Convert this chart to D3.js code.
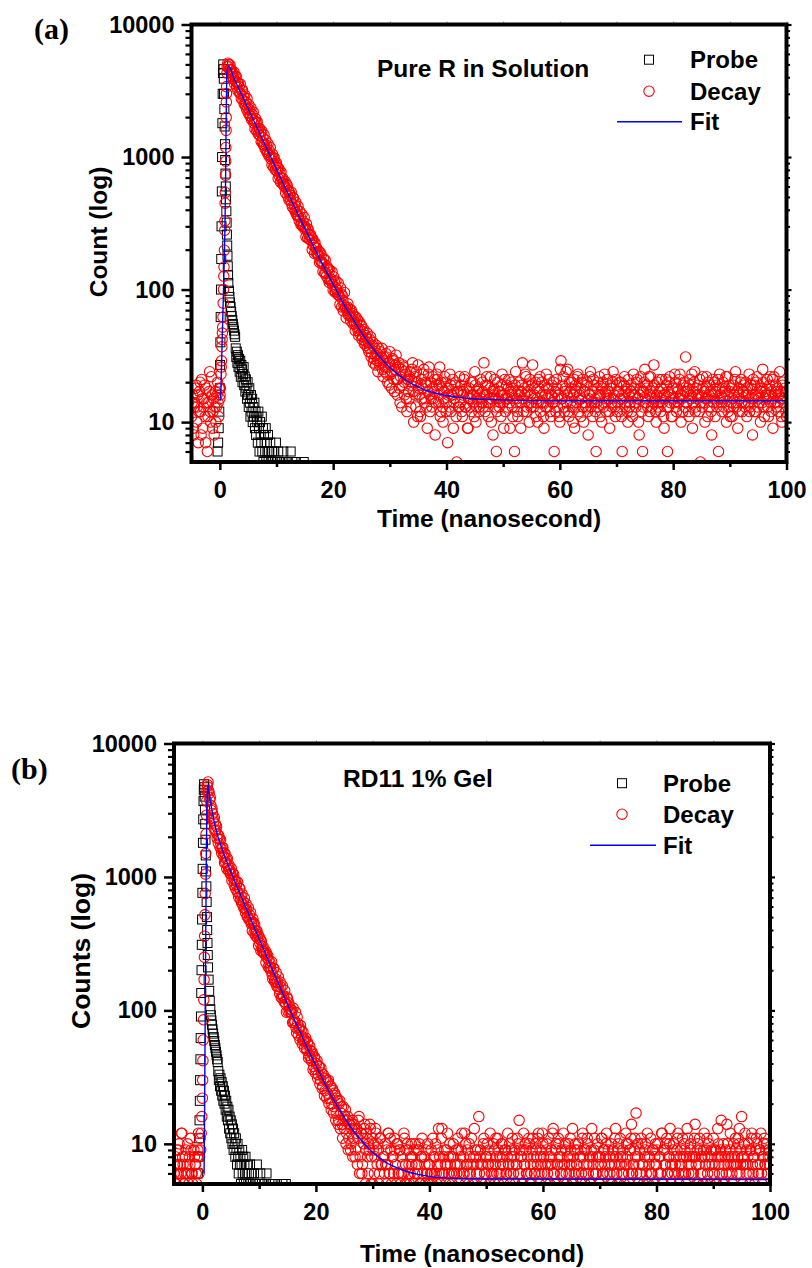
<!DOCTYPE html>
<html>
<head>
<meta charset="utf-8">
<script src="https://cdn.jsdelivr.net/npm/d3@7"></script>
<style>
body { margin: 0; background: #fff; }
svg { display: block; }
text { font-family: "Liberation Sans", Arial, Helvetica, sans-serif; font-weight: bold; fill: #000; }
</style>
</head>
<body>
<svg id="chart" width="812" height="1268"></svg>
<script>
// channels of the decay traces: first time and step (ns)
const t0 = -5, dt = 0.1;

const xDomain = [-5, 100];
const yDomain = [5, 10000];
const xTicks = [0, 20, 40, 60, 80, 100];
const xMinor = [10, 30, 50, 70, 90];
const yTicks = [10, 100, 1000, 10000];

// ---------- panel (a) : Pure R in Solution ----------
// one row = 1 ns
const aDecay = [
	11, 14, 16, 9, 8, 13, 14, 18, 19, 10,
	13, 16, 7, 12, 17, 20, 12, 8, 21, 15,
	9, 13, 15, 19, 11, 7, 18, 14, 6, 11,
	14, 17, 24, 12, 10, 22, 16, 9, 12, 15,
	8, 13, 17, 10, 13, 16, 20, 14, 11, 18,
	15, 18, 23, 29, 42, 52, 79, 126, 198, 330, 730, 1590, 3400, 4800,
	5100, 4830, 5000, 4580, 4940, 4570, 4320, 4520, 4300, 4060,
	3940, 4370, 3580, 4060, 3740, 4070, 3360, 3630, 3150, 3620,
	3390, 3040, 3550, 2990, 2770, 3170, 3200, 2680, 2850, 2500,
	2940, 2470, 2610, 2300, 2760, 2340, 2160, 2480, 2290, 2050,
	2040, 2340, 1920, 2100, 1940, 2180, 1800, 1870, 1630, 1950,
	1830, 1570, 1840, 1610, 1490, 1640, 1650, 1450, 1530, 1310,
	1570, 1310, 1400, 1230, 1470, 1230, 1150, 1340, 1230, 1090,
	1090, 1260, 1030, 1120, 1040, 1180, 970, 1000, 870, 1050,
	990, 840, 985, 870, 800, 880, 900, 785, 830, 690,
	820, 720, 760, 645, 770, 690, 635, 690, 640, 610,
	600, 655, 535, 625, 575, 610, 505, 555, 475, 540,
	515, 470, 545, 445, 420, 495, 490, 405, 435, 390,
	455, 370, 400, 360, 425, 355, 330, 390, 355, 310,
	315, 370, 300, 325, 300, 350, 285, 290, 250, 312,
	290, 245, 285, 260, 240, 255, 260, 235, 245, 200,
	240, 215, 225, 187, 225, 208, 191, 205, 188, 184,
	180, 194, 160, 190, 165, 182, 158, 160, 137, 171,
	155, 133, 167, 134, 126, 149, 143, 120, 143, 113,
	140, 117, 120, 115, 136, 109, 99, 125, 115, 97,
	95, 116, 100, 100, 92, 112, 91, 89, 77, 103,
	93, 74, 90, 83, 69, 76, 95, 74, 73, 61,
	70, 74, 78, 64, 66, 71, 63, 58, 70, 62,
	66, 55, 58, 63, 55, 49, 62, 56, 52, 59,
	49, 45, 57, 50, 46, 54, 53, 42, 44, 48,
	50, 39, 41, 45, 38, 43, 47, 36, 40, 34,
	36, 42, 44, 31, 33, 38, 40, 28, 30, 36,
	32, 27, 38, 33, 29, 24, 36, 30, 27, 34,
	28, 31, 36, 25, 22, 29, 31, 24, 26, 33,
	31, 23, 20, 28, 26, 19, 34, 27, 23, 18,
	24, 30, 29, 21, 17, 25, 27, 32, 21, 16,
	21, 26, 28, 18, 14, 22, 25, 13, 19, 27,
	26, 20, 16, 24, 23, 15, 12, 21, 21, 17,
	15, 22, 24, 13, 19, 25, 28, 17, 10, 20,
	22, 16, 13, 24, 20, 11, 27, 18, 16, 12,
	11, 19, 21, 15, 18, 23, 25, 14, 15, 20,
	19, 13, 9, 17, 23, 26, 16, 12, 20, 15,
	13, 18, 22, 15, 17, 21, 8, 14, 19, 23,
	21, 16, 14, 19, 26, 11, 12, 20, 18, 13,
	10, 15, 17, 22, 20, 12, 14, 18, 7, 16,
	18, 13, 23, 19, 12, 16, 16, 21, 9, 14,
	15, 19, 20, 11, 5, 17, 17, 13, 13, 22,
	14, 17, 19, 12, 11, 16, 17, 21, 22, 13,
	13, 18, 16, 9, 9, 15, 18, 13, 15, 20,
	12, 16, 20, 14, 16, 11, 24, 19, 10, 13,
	15, 17, 18, 12, 13, 16, 21, 15, 14, 20,
	17, 13, 28, 16, 12, 19, 16, 22, 19, 14,
	11, 15, 14, 18, 22, 10, 15, 17, 8, 16,
	18, 21, 13, 15, 6, 12, 20, 17, 15, 13,
	17, 14, 11, 19, 23, 16, 14, 9, 16, 21,
	12, 15, 19, 13, 15, 18, 21, 14, 9, 17,
	16, 20, 13, 11, 18, 15, 6, 19, 24, 14,
	15, 12, 11, 17, 20, 16, 14, 9, 17, 19,
	28, 15, 12, 18, 16, 23, 22, 12, 13, 17,
	19, 14, 10, 21, 16, 13, 14, 19, 27, 15,
	13, 16, 18, 20, 11, 14, 15, 10, 21, 18,
	17, 22, 12, 14, 20, 16, 14, 11, 9, 19,
	16, 13, 23, 18, 13, 15, 18, 21, 15, 12,
	11, 16, 19, 14, 14, 20, 6, 15, 17, 12,
	21, 18, 13, 16, 16, 11, 10, 25, 29, 15,
	15, 19, 22, 13, 12, 17, 18, 24, 14, 16,
	25, 12, 11, 20, 17, 14, 20, 18, 13, 10,
	16, 21, 9, 13, 19, 17, 14, 22, 23, 15,
	12, 16, 18, 11, 15, 20, 21, 13, 10, 17,
	17, 14, 13, 19, 20, 12, 8, 15, 16, 22,
	24, 13, 14, 17, 11, 21, 19, 14, 15, 12,
	6, 14, 18, 20, 13, 16, 22, 11, 16, 19,
	10, 18, 20, 13, 14, 23, 17, 15, 12, 16,
	21, 17, 15, 12, 9, 19, 18, 14, 13, 20,
	24, 15, 16, 13, 11, 21, 19, 12, 14, 17,
	17, 20, 12, 15, 20, 11, 6, 16, 15, 19,
	22, 14, 13, 17, 18, 12, 10, 21, 16, 13,
	14, 17, 19, 12, 11, 16, 23, 18, 16, 14,
	13, 20, 21, 15, 15, 10, 8, 16, 18, 22,
	12, 17, 6, 13, 17, 20, 25, 15, 14, 18,
	19, 13, 11, 22, 16, 12, 22, 17, 13, 15,
	18, 14, 27, 19, 15, 12, 10, 16, 20, 13,
	14, 21, 17, 15, 12, 18, 21, 14, 16, 11,
	9, 16, 15, 21, 19, 13, 6, 17, 13, 20,
	22, 14, 16, 11, 11, 18, 18, 15, 14, 23,
	20, 13, 12, 18, 17, 14, 15, 21, 23, 16,
	10, 15, 16, 12, 19, 20, 13, 17, 31, 14,
	14, 17, 18, 12, 11, 19, 21, 16, 15, 23,
	9, 14, 17, 20, 24, 12, 13, 18, 16, 15,
	19, 16, 12, 21, 5, 14, 16, 13, 22, 18,
	14, 17, 10, 15, 18, 22, 15, 11, 20, 16,
	13, 19, 17, 12, 8, 16, 21, 14, 15, 20,
	11, 17, 19, 13, 14, 21, 6, 18, 23, 15,
	16, 14, 12, 18, 20, 13, 15, 17, 18, 22,
	10, 16, 22, 12, 13, 19, 17, 11, 14, 18,
	11, 15, 19, 13, 16, 21, 24, 14, 13, 17,
	9, 16, 18, 12, 15, 20, 21, 14, 12, 17,
	17, 19, 14, 13, 20, 16, 11, 18, 16, 14,
	23, 12, 13, 19, 18, 15, 8, 21, 15, 12,
	19, 16, 12, 20, 22, 13, 16, 15, 14, 18,
	10, 17, 18, 14, 25, 20, 13, 11, 17, 16,
	15, 18, 21, 13, 11, 16, 19, 22, 14, 12,
	17, 21, 9, 15, 22, 14, 16, 19, 13, 17,
	18, 14, 12, 16, 24, 17, 15, 11, 10, 19,
	20, 15, 14, 18, 17, 12, 11
];

// extra decay channels on the steep rising edge [ns, count]
const aRise = [
	[0.05, 16], [0.25, 26], [0.36, 37], [0.45, 47], [0.55, 62], [0.65, 100], [0.74, 148],
	[0.86, 280], [0.93, 448], [0.97, 540], [1.03, 930], [1.06, 1180], [1.12, 1990],
	[1.15, 2600], [1.18, 3020], [1.25, 4300]
];

// instrument response (probe) [ns, count]
const aProbe = [
	[-0.4, 6], [-0.3, 7], [-0.2, 9], [-0.1, 12], [0.0, 18], [0.05, 27], [0.1, 40], [0.15, 62],
	[0.2, 100], [0.25, 170], [0.3, 300], [0.35, 550], [0.4, 1000], [0.45, 1800], [0.5, 3000],
	[0.55, 4300], [0.6, 5000], [0.65, 4600], [0.7, 3900], [0.75, 3000], [0.8, 2300], [0.85, 1700],
	[0.9, 1250], [0.95, 950], [1.0, 750], [1.05, 600], [1.1, 480], [1.15, 390], [1.2, 320],
	[1.25, 260], [1.3, 215], [1.35, 180], [1.4, 150], [1.45, 128], [1.5, 112], [1.6, 98],
	[1.7, 88], [1.8, 80], [1.9, 74], [2.0, 68], [2.1, 63], [2.2, 59], [2.3, 55], [2.4, 52],
	[2.5, 49], [2.6, 46], [2.7, 44],
	[2.8, 36], [2.9, 31], [3.0, 34], [3.1, 28], [3.2, 32], [3.3, 26], [3.4, 30], [3.5, 24],
	[3.6, 29], [3.7, 22], [3.8, 27], [3.9, 25], [4.0, 20], [4.1, 23], [4.2, 26], [4.3, 19],
	[4.4, 22], [4.5, 17], [4.6, 21], [4.7, 18], [4.8, 15], [4.9, 20], [5.0, 16], [5.1, 13],
	[5.2, 18], [5.3, 14], [5.4, 11], [5.5, 16], [5.6, 12], [5.7, 15], [5.8, 10], [5.9, 13],
	[6.0, 11], [6.1, 14], [6.2, 9], [6.3, 12], [6.4, 8], [6.5, 11], [6.6, 10], [6.7, 7],
	[6.8, 12], [6.9, 9], [7.0, 6], [7.1, 10], [7.2, 8], [7.3, 7], [7.4, 11], [7.5, 6],
	[7.6, 9], [7.7, 5], [7.8, 8], [7.9, 7], [8.0, 6], [8.1, 9], [8.2, 5], [8.3, 7],
	[8.4, 6], [8.5, 8], [8.6, 5], [8.7, 6], [8.9, 7], [9.0, 5], [9.2, 6], [9.3, 5],
	[9.5, 6], [9.7, 5], [9.9, 7], [10.1, 5], [10.3, 6], [10.6, 5], [10.9, 5], [11.2, 6],
	[11.6, 5], [12.0, 5], [12.5, 6], [12.8, 5], [13.4, 5], [14.8, 5]
];

// fitted curve [ns, count]
const aFit = [
	[0.1, 14.6], [0.2, 18], [0.4, 40], [0.7, 120], [0.95, 400], [1.05, 900],
	[1.12, 2000], [1.2, 3600], [1.3, 4500], [1.55, 4850], [2.5, 3935], [3.5, 3184],
	[4.5, 2577], [5.5, 2086], [6.5, 1689], [7.5, 1369], [8.5, 1109], [9.5, 899], [10.5, 729],
	[11.5, 592], [12.5, 482], [13.5, 393], [14.5, 320], [15.5, 262], [16.5, 214], [17.5, 175],
	[18.5, 145], [19.5, 120], [20.5, 100], [21.5, 83], [22.5, 70], [23.5, 60], [24.5, 51],
	[25.5, 44], [26.5, 38.4], [27.5, 33.8], [28.5, 30.1], [29.5, 27.1], [30.5, 24.7],
	[31.5, 22.7], [32.5, 21.2], [33.5, 19.9], [34.5, 18.9], [35.5, 18], [36.5, 17.3],
	[37.5, 16.8], [39.5, 16], [41.5, 15.5], [44.5, 15], [49.5, 14.7], [60, 14.5], [100, 14.5]
];

// ---------- panel (b) : RD11 1% Gel ----------
const bDecay = [
	6, 7, 8, 5, 5, 9, 7, 6, 9, 10,
	4, 7, 6, 12, 12, 8, 7, 5, 5, 6,
	8, 9, 6, 7, 10, 6, 5, 8, 7, 11,
	9, 6, 6, 5, 4, 9, 8, 7, 7, 6,
	5, 8, 9, 12, 6, 8, 11, 9, 12, 16,
	22, 42, 85, 170, 360, 750, 1500, 2900, 4400, 4900,
	5150, 4420, 4240, 3790, 3940, 3430, 3150, 3240, 2990, 2730,
	2580, 2790, 2230, 2490, 2250, 2390, 1940, 2080, 1790, 2030,
	1930, 1670, 1900, 1630, 1510, 1660, 1660, 1440, 1520, 1280,
	1490, 1290, 1370, 1150, 1375, 1210, 1120, 1230, 1130, 1060,
	1055, 1155, 940, 1070, 980, 1045, 870, 950, 825, 930,
	875, 780, 915, 760, 705, 820, 820, 675, 720, 640,
	745, 620, 655, 585, 695, 580, 540, 630, 575, 505,
	505, 590, 480, 520, 475, 540, 445, 455, 395, 485,
	455, 380, 440, 395, 362, 395, 395, 350, 370, 306,
	356, 320, 340, 280, 330, 300, 278, 300, 276, 266,
	266, 280, 228, 268, 247, 258, 212, 238, 207, 227,
	211, 197, 231, 184, 171, 206, 207, 165, 173, 162,
	192, 152, 163, 151, 178, 144, 134, 163, 150, 125,
	124, 153, 127, 129, 116, 141, 115, 111, 97, 126,
	122, 98, 114, 108, 98, 101, 102, 96, 100, 81,
	104, 81, 84, 81, 97, 74, 68, 89, 80, 65,
	72, 74, 60, 77, 71, 64, 56, 69, 59, 60,
	52, 60, 62, 52, 50, 58, 56, 44, 46, 54,
	50, 44, 42, 49, 47, 36, 38, 45, 44, 34,
	36, 40, 42, 31, 33, 38, 38, 28, 30, 37,
	34, 26, 27, 33, 31, 23, 25, 31, 30, 22,
	24, 29, 30, 20, 22, 27, 27, 18, 20, 26,
	25, 17, 19, 24, 23, 15, 17, 22, 21, 14,
	15, 20, 21, 13, 17, 19, 14, 11, 19, 15,
	13, 16, 18, 10, 12, 15, 16, 9, 11, 14,
	14, 9, 10, 13, 15, 8, 11, 14, 13, 8,
	9, 12, 13, 7, 11, 15, 16, 6, 8, 12,
	12, 6, 7, 11, 10, 13, 14, 5, 9, 12,
	11, 8, 6, 10, 9, 14, 13, 5, 8, 11,
	5, 9, 10, 6, 8, 13, 12, 4, 7, 10,
	9, 5, 6, 11, 11, 7, 7, 4, 4, 8,
	8, 6, 10, 7, 5, 9, 7, 12, 12, 6,
	6, 11, 9, 5, 4, 8, 8, 6, 11, 9,
	7, 4, 5, 10, 10, 6, 6, 9, 9, 5,
	8, 6, 4, 7, 6, 12, 11, 5, 7, 9,
	5, 10, 9, 6, 7, 5, 6, 8, 10, 7,
	8, 4, 5, 9, 6, 10, 4, 7, 9, 6,
	7, 9, 10, 5, 5, 8, 8, 11, 6, 4,
	4, 8, 7, 5, 9, 6, 6, 10, 5, 7,
	7, 5, 6, 9, 6, 5, 11, 8, 4, 6,
	8, 10, 6, 5, 7, 9, 13, 6, 8, 5,
	7, 11, 13, 6, 6, 8, 4, 9, 7, 5,
	9, 7, 12, 8, 6, 5, 10, 7, 8, 6,
	5, 8, 10, 6, 6, 7, 3, 9, 6, 7,
	11, 9, 5, 6, 7, 8, 9, 12, 4, 6,
	8, 6, 12, 5, 10, 7, 7, 9, 6, 5,
	10, 8, 6, 7, 11, 4, 5, 7, 8, 13,
	5, 9, 8, 6, 7, 9, 4, 16, 6, 8,
	9, 7, 4, 5, 7, 10, 11, 6, 5, 8,
	6, 8, 10, 7, 7, 9, 5, 12, 8, 6,
	4, 7, 6, 10, 9, 5, 7, 11, 8, 6,
	11, 9, 5, 6, 8, 7, 6, 10, 10, 8,
	7, 5, 3, 9, 9, 6, 6, 8, 12, 7,
	7, 10, 5, 6, 8, 9, 11, 7, 6, 8,
	9, 5, 4, 7, 7, 11, 10, 6, 15, 9,
	6, 8, 8, 5, 5, 9, 12, 7, 7, 10,
	9, 6, 6, 8, 4, 11, 10, 5, 7, 6,
	5, 9, 11, 7, 8, 6, 6, 10, 9, 8,
	7, 11, 12, 6, 5, 9, 8, 7, 6, 12,
	10, 8, 4, 6, 7, 5, 9, 10, 6, 7,
	11, 8, 5, 7, 8, 9, 7, 12, 13, 6,
	6, 5, 9, 10, 5, 7, 7, 11, 10, 8,
	4, 6, 8, 9, 6, 7, 12, 5, 7, 10,
	9, 6, 5, 8, 8, 10, 6, 7, 11, 9,
	7, 5, 13, 8, 5, 6, 9, 10, 6, 7,
	7, 9, 10, 6, 4, 8, 8, 5, 6, 11,
	12, 8, 7, 9, 5, 6, 9, 7, 11, 10,
	6, 7, 8, 5, 5, 9, 13, 8, 7, 6,
	9, 11, 4, 6, 6, 8, 10, 7, 8, 5,
	5, 8, 7, 11, 11, 6, 6, 9, 9, 7,
	8, 10, 12, 6, 4, 9, 7, 8, 6, 5,
	10, 7, 5, 9, 8, 6, 7, 11, 13, 8,
	6, 5, 9, 10, 5, 7, 11, 8, 7, 6,
	8, 9, 6, 5, 4, 7, 12, 10, 7, 8,
	10, 6, 5, 9, 9, 11, 14, 6, 6, 7,
	7, 9, 11, 8, 17, 6, 8, 10, 5, 7,
	9, 6, 6, 11, 10, 7, 7, 5, 4, 8,
	9, 10, 6, 5, 12, 8, 5, 7, 8, 6,
	11, 6, 6, 9, 9, 5, 7, 8, 10, 7,
	7, 9, 10, 6, 4, 8, 8, 6, 6, 12,
	12, 5, 5, 9, 9, 7, 7, 10, 11, 6,
	6, 8, 8, 10, 13, 7, 5, 6, 7, 9,
	10, 8, 6, 7, 4, 8, 9, 11, 12, 6,
	5, 7, 8, 9, 7, 6, 11, 8, 6, 10,
	9, 6, 5, 8, 13, 11, 7, 6, 8, 9,
	10, 7, 6, 8, 4, 6, 8, 11, 14, 8,
	7, 5, 9, 10, 5, 7, 11, 9, 6, 8,
	8, 6, 5, 9, 12, 8, 7, 5, 9, 11,
	6, 8, 10, 7, 4, 5, 8, 9, 7, 6,
	11, 9, 6, 7, 9, 5, 5, 8, 13, 10,
	7, 6, 8, 9, 15, 8, 6, 5, 10, 7,
	5, 8, 9, 6, 14, 10, 7, 8, 6, 9,
	12, 7, 8, 6, 5, 7, 10, 8, 7, 11,
	9, 7, 6, 8, 11, 10, 13, 6, 7, 9,
	16, 8, 5, 7, 8, 10, 12, 7, 6, 9,
	7, 8, 10, 6, 5, 9, 9, 11, 12, 7,
	6, 8, 8, 5, 4, 9, 11, 10, 7, 6,
	6, 9, 9, 7, 12, 6, 5, 8, 8, 10,
	11, 7, 7, 9, 10, 6, 6, 8, 9, 7,
	8
];

const bRise = [
	[0.05, 30], [0.15, 60], [0.25, 120], [0.35, 250], [0.45, 520], [0.55, 1050],
	[0.65, 2100], [0.75, 3700], [0.85, 4750]
];

const bProbe = [
	[-0.8, 6], [-0.7, 8], [-0.6, 11], [-0.5, 15], [-0.45, 21], [-0.4, 30], [-0.35, 43],
	[-0.3, 62], [-0.25, 90], [-0.2, 135], [-0.15, 200], [-0.1, 310], [-0.05, 480], [0.0, 760],
	[0.05, 1150], [0.1, 1800], [0.15, 2700], [0.2, 3700], [0.25, 4500], [0.3, 4950],
	[0.35, 4700], [0.4, 4000], [0.45, 3200], [0.5, 2500], [0.55, 1900], [0.6, 1450],
	[0.65, 1100], [0.7, 850], [0.75, 650], [0.8, 500], [0.85, 400], [0.9, 320], [0.95, 260],
	[1.0, 210], [1.1, 170], [1.2, 140], [1.3, 118], [1.4, 102], [1.5, 92], [1.6, 84],
	[1.7, 78], [1.8, 72], [1.9, 67], [2.0, 63], [2.1, 59], [2.2, 55], [2.3, 52], [2.4, 49],
	[2.5, 46], [2.6, 43], [2.7, 41],
	[2.8, 35], [2.9, 30], [3.0, 33], [3.1, 27], [3.2, 31], [3.3, 25], [3.4, 29], [3.5, 23],
	[3.6, 27], [3.7, 21], [3.8, 25], [3.9, 20], [4.0, 23], [4.1, 18], [4.2, 21], [4.3, 16],
	[4.4, 19], [4.5, 15], [4.6, 18], [4.7, 13], [4.8, 16], [4.9, 12], [5.0, 15], [5.1, 11],
	[5.2, 14], [5.3, 10], [5.4, 13], [5.5, 9], [5.6, 12], [5.7, 10], [5.8, 8], [5.9, 11],
	[6.0, 9], [6.1, 7], [6.2, 10], [6.3, 8], [6.4, 6], [6.5, 9], [6.6, 7], [6.7, 8],
	[6.8, 5], [6.9, 7], [7.0, 9], [7.1, 6], [7.2, 8], [7.3, 5], [7.4, 7], [7.5, 6],
	[7.6, 8], [7.7, 5], [7.8, 6], [7.9, 7], [8.1, 5], [8.2, 6], [8.4, 7], [8.5, 5],
	[8.7, 6], [8.9, 5], [9.1, 6], [9.4, 5], [9.6, 7], [9.9, 5], [10.2, 6], [10.5, 5],
	[10.9, 5], [11.3, 6], [11.8, 5], [12.2, 5], [12.8, 5], [14.1, 5], [14.7, 5]
];

const bFit = [
	[0.3, 6], [0.4, 20], [0.5, 100], [0.6, 400], [0.7, 1500],
	[0.8, 3500], [0.9, 4600], [1.0, 4900], [1.2, 4236], [1.4, 3714], [1.6, 3300], [1.8, 2964],
	[2.0, 2690], [2.4, 2270], [2.8, 1968], [3.5, 1602], [4, 1404], [5, 1097], [6, 865],
	[7, 686], [8, 545], [9, 433], [10, 344], [11, 274], [12, 218], [13, 174], [14, 139],
	[15, 111], [16, 89], [17, 72], [18, 58], [19, 47], [20, 38.6], [21, 31.7], [22, 26.2],
	[23, 21.9], [24, 18.5], [25, 15.8], [26, 13.6], [27, 11.9], [28, 10.6], [29, 9.5],
	[30, 8.6], [31, 8.0], [32, 7.4], [34, 6.7], [36, 6.2], [38, 5.9], [40, 5.7], [45, 5.5],
	[50, 5.45], [100, 5.4]
];

const legendNames = ['Probe', 'Decay', 'Fit'];

// layout of the two panels
let panels = [{
	id: 'a', tag: '(a)', title: 'Pure R in Solution', yTitle: 'Count (log)',
	decay: aDecay, rise: aRise, probe: aProbe, fit: aFit,
	left: 191.5, right: 786.5, top: 24.5, bottom: 462,
	tagPos: [34, 39], titlePos: [377, 76.5],
	legX: 649, legTextX: 690, legY: [68, 99.5, 130], legLine: [617, 682],
	yTitlePos: [107, 232], yTitleSize: 24.5, xTitleY: 527
}, {
	id: 'b', tag: '(b)', title: 'RD11 1% Gel', yTitle: 'Counts (log)',
	decay: bDecay, rise: bRise, probe: bProbe, fit: bFit,
	left: 174, right: 770, top: 743.5, bottom: 1184,
	tagPos: [11, 779], titlePos: [343, 786.5],
	legX: 622, legTextX: 663, legY: [791.5, 822.5, 853.5], legLine: [590, 656],
	yTitlePos: [90, 951], yTitleSize: 26.5, xTitleY: 1261.5
}];

let svg = d3.select('#chart');

// minor log ticks 2..9 of every decade inside the domain
let yMinor = [];
[1, 10, 100, 1000].forEach(function(d) {
	d3.range(2, 10).forEach(function(m) {
		let v = m * d;
		if (v > yDomain[0] && v < yDomain[1]) yMinor.push(v);
	});
});

function styleAxis(sel, size, width, color) {
	sel.select('.domain').remove();
	sel.selectAll('line').attr('stroke', color || '#000').attr('stroke-width', width);
	sel.attr('font-family', null).attr('font-size', size).attr('font-weight', 'bold');
	sel.selectAll('text').attr('fill', '#000');
}

panels.forEach(function(p) {
	let x = d3.scaleLinear().domain(xDomain).range([p.left, p.right]);
	let y = d3.scaleLog().domain(yDomain).range([p.bottom, p.top]);
	let g = svg.append('g').attr('class', 'panel ' + p.id);

	g.append('clipPath').attr('id', 'clip-' + p.id)
		.append('rect')
		.attr('x', p.left).attr('y', p.top)
		.attr('width', p.right - p.left).attr('height', p.bottom - p.top);

	let plot = g.append('g').attr('clip-path', 'url(#clip-' + p.id + ')');

	// probe squares
	plot.selectAll('rect.probe')
		.data(p.probe)
		.enter()
		.append('rect')
		.attr('class', 'probe')
		.attr('x', function(d) { return x(d[0]) - 4.5 })
		.attr('y', function(d) { return y(d[1]) - 4.5 })
		.attr('width', 9).attr('height', 9)
		.style('fill', 'none')
		.style('stroke', '#000')
		.style('stroke-width', 1);

	// decay circles
	let pts = p.decay.map(function(v, i) { return [t0 + i * dt, v] }).concat(p.rise);
	plot.selectAll('circle.decay')
		.data(pts)
		.enter()
		.append('circle')
		.attr('class', 'decay')
		.attr('cx', function(d) { return x(d[0]) })
		.attr('cy', function(d) { return y(d[1]) })
		.attr('r', 5.2)
		.style('fill', 'none')
		.style('stroke', '#ff0000')
		.style('stroke-width', 1.1);

	// fit
	let line = d3.line()
		.x(function(d) { return x(d[0]) })
		.y(function(d) { return y(d[1]) })
		.curve(d3.curveMonotoneX);
	plot.append('path')
		.datum(p.fit)
		.attr('d', line)
		.style('fill', 'none')
		.style('stroke', '#0000ff')
		.style('stroke-width', 1.4);

	// axes
	g.append('g').attr('transform', 'translate(0,' + p.bottom + ')')
		.call(d3.axisBottom(x).tickValues(xTicks).tickSize(8).tickPadding(11).tickFormat(d3.format('d')))
		.call(styleAxis, 23.5, 2.5);
	g.append('g').attr('transform', 'translate(0,' + p.bottom + ')')
		.call(d3.axisBottom(x).tickValues(xMinor).tickSize(5).tickFormat(''))
		.call(styleAxis, 10, 2.5);
	g.append('g').attr('transform', 'translate(0,' + p.top + ')')
		.call(d3.axisTop(x).tickValues(d3.range(0, 101, 10)).tickSize(3).tickFormat(''))
		.call(styleAxis, 10, 1, '#999');
	g.append('g').attr('transform', 'translate(' + p.left + ',0)')
		.call(d3.axisLeft(y).tickValues(yTicks).tickSize(10).tickPadding(7).tickFormat(d3.format('d')))
		.call(styleAxis, 23.5, 2.5);
	g.append('g').attr('transform', 'translate(' + p.left + ',0)')
		.call(d3.axisLeft(y).tickValues(yMinor).tickSize(6).tickFormat(''))
		.call(styleAxis, 10, 2.2);
	g.append('g').attr('transform', 'translate(' + p.right + ',0)')
		.call(d3.axisRight(y).tickValues(yTicks).tickSize(5).tickFormat(''))
		.call(styleAxis, 10, 2.2);
	g.append('g').attr('transform', 'translate(' + p.right + ',0)')
		.call(d3.axisRight(y).tickValues(yMinor).tickSize(3.5).tickFormat(''))
		.call(styleAxis, 10, 2);

	// frame
	g.append('rect')
		.attr('x', p.left).attr('y', p.top)
		.attr('width', p.right - p.left).attr('height', p.bottom - p.top)
		.style('fill', 'none')
		.style('stroke', '#000')
		.style('stroke-width', 4);

	// titles
	g.append('text')
		.attr('x', (p.left + p.right) / 2).attr('y', p.xTitleY)
		.attr('text-anchor', 'middle')
		.style('font-size', '24.5px')
		.text('Time (nanosecond)');
	g.append('text')
		.attr('transform', 'translate(' + p.yTitlePos[0] + ',' + p.yTitlePos[1] + ') rotate(-90)')
		.attr('text-anchor', 'middle')
		.style('font-size', p.yTitleSize + 'px')
		.text(p.yTitle);
	g.append('text')
		.attr('x', p.tagPos[0]).attr('y', p.tagPos[1])
		.style('font-family', '"Liberation Serif", "Times New Roman", serif')
		.style('font-size', '30px')
		.text(p.tag);
	g.append('text')
		.attr('x', p.titlePos[0]).attr('y', p.titlePos[1])
		.style('font-size', '24.5px')
		.text(p.title);

	// legend
	let leg = g.append('g').attr('class', 'legend');
	leg.append('rect')
		.attr('x', p.legX - 4.5).attr('y', p.legY[0] - 8.3 - 4.5)
		.attr('width', 9).attr('height', 9)
		.style('fill', 'none').style('stroke', '#000').style('stroke-width', 1);
	leg.append('circle')
		.attr('cx', p.legX).attr('cy', p.legY[1] - 8.3).attr('r', 5.2)
		.style('fill', 'none').style('stroke', '#ff0000').style('stroke-width', 1.1);
	leg.append('line')
		.attr('x1', p.legLine[0]).attr('x2', p.legLine[1])
		.attr('y1', p.legY[2] - 8.3).attr('y2', p.legY[2] - 8.3)
		.style('stroke', '#0000ff').style('stroke-width', 1.4);
	leg.selectAll('text')
		.data(legendNames)
		.enter()
		.append('text')
		.attr('x', p.legTextX)
		.attr('y', function(d, i) { return p.legY[i] })
		.style('font-size', '24px')
		.text(function(d) { return d });
});
</script>
</body>
</html>
